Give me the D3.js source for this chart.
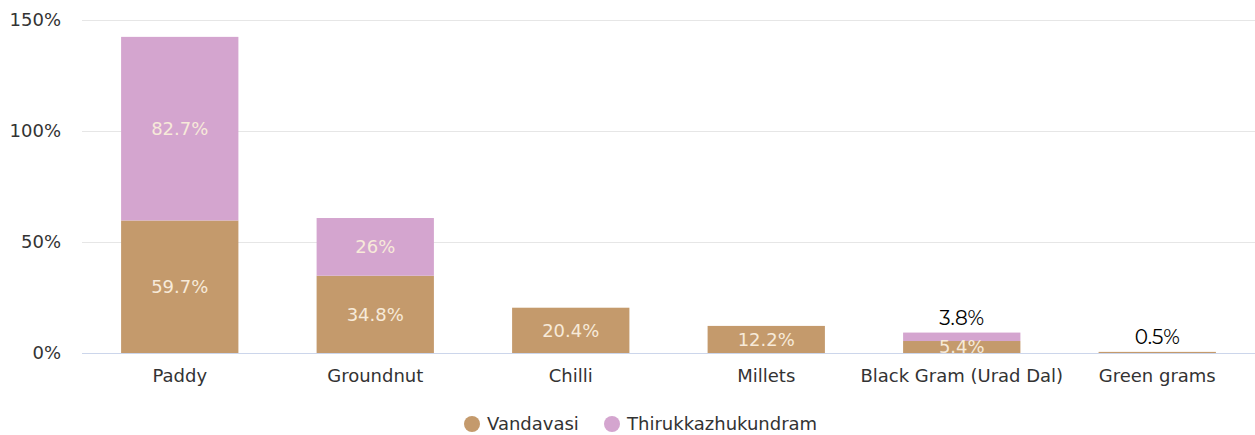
<!DOCTYPE html>
<html><head><meta charset="utf-8">
<script src="https://cdn.jsdelivr.net/npm/d3@7/dist/d3.min.js"></script>
<style>html,body{margin:0;padding:0;background:#fff;}svg{display:block;font-family:"DejaVu Sans",sans-serif;}</style>
</head><body>
<svg id="c" width="1255" height="435"></svg>
<script>
const categories = ["Paddy","Groundnut","Chilli","Millets","Black Gram (Urad Dal)","Green grams"];
const seriesNames = ["Vandavasi","Thirukkazhukundram"];
const vandavasi = [59.7, 34.8, 20.4, 12.2, 5.4, 0.5];
const thirukkazhukundram = [82.7, 26, 0, 0, 3.8, 0];
const yTicks = [0, 50, 100, 150];
const colors = ["#c49a6c", "#d4a5cf"];

const svg = d3.select("#c");
const m = {l: 82, r: 0};
const W = 1255;
const FS = 18;
const x = d3.scaleBand().domain(categories).range([m.l, W - m.r]).paddingInner(0.4).paddingOuter(0.2);
const y = d3.scaleLinear().domain([0, 150]).range([353, 20]);

// gridlines
svg.append("g").selectAll("line").data(yTicks).join("line")
  .attr("x1", m.l).attr("x2", W).attr("y1", d => y(d) + 0.5).attr("y2", d => y(d) + 0.5)
  .attr("stroke", d => d === 0 ? "#ccd6eb" : "#e6e6e6").attr("stroke-width", 1);

// y axis labels
const yAxis = d3.axisLeft(y).tickValues(yTicks).tickFormat(d => d + "%").tickSize(0).tickPadding(0);
const ga = svg.append("g").attr("transform", `translate(61,0)`).call(yAxis);
ga.select(".domain").remove();
ga.selectAll("text").attr("font-size", FS).attr("fill", "#333").attr("font-family", "DejaVu Sans, sans-serif").attr("dy", "0.32em");

// x axis labels
const xAxis = d3.axisBottom(x).tickSize(0).tickPadding(0);
const gx = svg.append("g").attr("transform", `translate(0,369)`).call(xAxis);
gx.select(".domain").remove();
gx.selectAll("text").attr("font-size", FS).attr("fill", "#333").attr("font-family", "DejaVu Sans, sans-serif").attr("dy", "0.71em");

// stacked data
const rows = categories.map((c, i) => ({cat: c, Vandavasi: vandavasi[i], Thirukkazhukundram: thirukkazhukundram[i]}));
const stacked = d3.stack().keys(seriesNames)(rows);

stacked.forEach((s, si) => {
  const g = svg.append("g");
  g.selectAll("rect").data(s).join("rect")
    .attr("x", d => x(d.data.cat))
    .attr("width", x.bandwidth())
    .attr("y", d => y(d[1]))
    .attr("height", d => Math.max(0, y(d[0]) - y(d[1])))
    .attr("fill", colors[si]);
});

// labels
stacked.forEach((s, si) => {
  s.forEach(d => {
    const v = d[1] - d[0];
    if (v <= 0) return;
    const cx = x(d.data.cat) + x.bandwidth() / 2;
    const txt = d3.format("~g")(v) + "%";
    if (v >= 5) {
      svg.append("text").attr("x", cx).attr("y", (y(d[0]) + y(d[1])) / 2)
        .attr("dy", "0.35em").attr("text-anchor", "middle")
        .attr("font-size", FS).attr("fill", "#f7ead9").text(txt);
    } else {
      svg.append("text").attr("x", cx).attr("y", y(d[1]) - 8)
        .attr("text-anchor", "middle").attr("font-family", "Montserrat, 'Open Sans', sans-serif")
        .attr("font-size", 20).attr("fill", "#000").text(txt);
    }
  });
});

// legend
const lg = svg.append("g");
const lx = [472, 612];
seriesNames.forEach((n, i) => {
  lg.append("circle").attr("cx", lx[i]).attr("cy", 424).attr("r", 8).attr("fill", colors[i]);
  lg.append("text").attr("x", lx[i] + 15).attr("y", 424).attr("dy", "0.35em")
    .attr("font-size", FS).attr("fill", "#333").text(n);
});
</script>
</body></html>
